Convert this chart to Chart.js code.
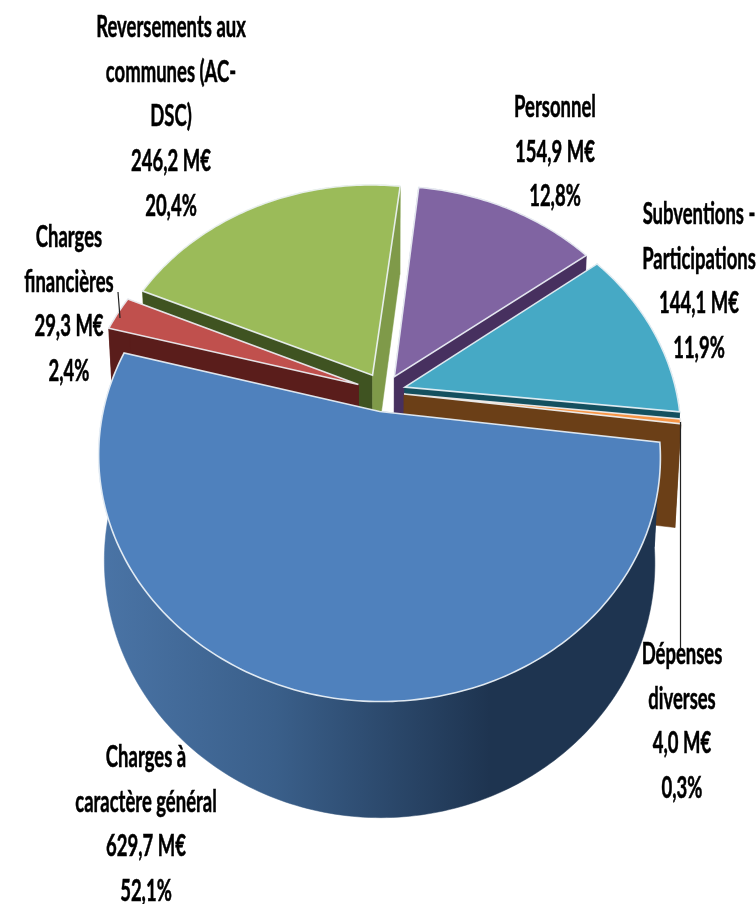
<!DOCTYPE html>
<html>
<head>
<meta charset="utf-8">
<style>
  html, body { margin: 0; padding: 0; background: #fff; }
  canvas { display: block; }
</style>
<script src="https://cdn.jsdelivr.net/npm/chart.js@4"></script>
</head>
<body>
<canvas id="pie" width="756" height="904"></canvas>
<script>
// values, clockwise from the right side
const categories = [
  ['Charges à', 'caractère général'],
  ['Charges', 'financières'],
  ['Reversements aux', 'communes (AC-', 'DSC)'],
  ['Personnel'],
  ['Subventions -', 'Participations'],
  ['Dépenses', 'diverses']
];
const values = [629.7, 29.3, 246.2, 154.9, 144.1, 4.0];
const explode = [8.5, 10, 8.5, 7.8, 8, 7.4]; // percent of radius

const topColors = ['#4f81bd', '#c0504d', '#9bbb59', '#8064a2', '#46a9c5', '#f79646'];
const startFace = ['#1f3550', '#5a1d1b', '#3f5321', '#47305f', '#14505f', '#6b3f17'];
const endFace = ['#1f3550', '#5a1d1b', '#7f9a49', '#47305f', '#14505f', '#6b3f17'];
const wallColors = ['#2c4a70', '#5a1d1b', '#7f9a49', '#47305f', '#14505f', '#6b3f17'];
const paintOrder = [2, 3, 4, 5, 1, 0];

// projection of the pie plane on the page
const view = { cx: 384, cy: 392, a: 272, b: 230, p: 0.18, shear: 2, shrink: 0.98, depth: 102, depthFront: 13 };

// centre x and first line y of each label
const labelPos = [
  [146, 757], [69, 237], [171, 27], [555, 107], [699, 214], [682, 654]
];
const lineGap = 44.6;

function topPoint(u, v) {
  const w = 1 - view.p * v;
  return [view.cx + view.a * u / w, view.cy + view.b * v / w + view.shear * u];
}

function bottomPoint(u, v) {
  const w = 1 - view.p * v;
  return [
    view.cx + view.a * view.shrink * u / w,
    view.cy + view.b * v / w + view.shear * u + view.depth + view.depthFront * v
  ];
}

function slicePoints(arc, project) {
  const mid = (arc.startAngle + arc.endAngle) / 2;
  const off = arc.options.offset / 100;
  const ox = Math.cos(mid) * off;
  const oy = Math.sin(mid) * off;
  const steps = Math.max(2, Math.ceil((arc.endAngle - arc.startAngle) * 180 / Math.PI));
  const rim = [];
  for (let i = 0; i <= steps; i++) {
    const t = arc.startAngle + (arc.endAngle - arc.startAngle) * i / steps;
    rim.push(project(ox + Math.cos(t), oy + Math.sin(t)));
  }
  return { tip: project(ox, oy), rim: rim };
}

function fillPoly(ctx, pts, fill) {
  ctx.beginPath();
  pts.forEach((p, i) => i ? ctx.lineTo(p[0], p[1]) : ctx.moveTo(p[0], p[1]));
  ctx.closePath();
  ctx.fillStyle = fill;
  ctx.strokeStyle = fill;
  ctx.lineWidth = 0.5;
  ctx.fill();
  ctx.stroke();
}

const pie3d = {
  id: 'pie3d',
  beforeDatasetsDraw(chart) {
    const ctx = chart.ctx;
    const arcs = chart.getDatasetMeta(0).data;

    paintOrder.forEach(i => {
      const top = slicePoints(arcs[i], topPoint);
      const bot = slicePoints(arcs[i], bottomPoint);
      const n = top.rim.length - 1;

      let wall = wallColors[i];
      if (i === 0) {
        wall = ctx.createLinearGradient(100, 0, 490, 0);
        wall.addColorStop(0, '#4a74a6');
        wall.addColorStop(0.45, '#3a5f8a');
        wall.addColorStop(1, '#1e3450');
      }
      fillPoly(ctx, top.rim.concat(bot.rim.slice().reverse()), wall);

      fillPoly(ctx, [top.tip, top.rim[0], bot.rim[0], bot.tip], startFace[i]);
      fillPoly(ctx, [top.tip, top.rim[n], bot.rim[n], bot.tip], endFace[i]);

      ctx.beginPath();
      ctx.moveTo(top.tip[0], top.tip[1]);
      top.rim.forEach(p => ctx.lineTo(p[0], p[1]));
      ctx.closePath();
      ctx.fillStyle = topColors[i];
      ctx.fill();
      ctx.strokeStyle = 'rgba(240,245,250,0.9)';
      ctx.lineWidth = 1.6;
      ctx.stroke();
    });
    return false;
  },
  afterDraw(chart) {
    const ctx = chart.ctx;
    const total = values.reduce((a, b) => a + b, 0);

    ctx.strokeStyle = '#222';
    ctx.lineWidth = 1.2;
    ctx.beginPath();
    ctx.moveTo(118, 292); ctx.lineTo(120, 318);
    ctx.moveTo(680.5, 422); ctx.lineTo(680.5, 648);
    ctx.stroke();

    ctx.fillStyle = '#000';
    ctx.strokeStyle = '#000';
    ctx.lineWidth = 0.5;
    ctx.font = 'bold 28px Lato';
    ctx.textAlign = 'center';
    ctx.textBaseline = 'middle';
    categories.forEach((lines, i) => {
      const money = values[i].toFixed(1).replace('.', ',') + ' M€';
      const share = (values[i] / total * 100).toFixed(1).replace('.', ',') + '%';
      lines.concat([money, share]).forEach((text, k) => {
        ctx.save();
        ctx.translate(labelPos[i][0], labelPos[i][1] + k * lineGap);
        ctx.scale(0.66, 1.12);
        ctx.fillText(text, 0, 0);
        ctx.strokeText(text, 0, 0);
        ctx.restore();
      });
    });
  }
};

new Chart(document.getElementById('pie').getContext('2d'), {
  type: 'pie',
  data: {
    labels: categories.map(c => c.join(' ')),
    datasets: [{
      data: values,
      backgroundColor: topColors,
      offset: explode
    }]
  },
  options: {
    responsive: false,
    animation: false,
    rotation: 96.8,
    plugins: {
      legend: { display: false },
      tooltip: { enabled: false }
    }
  },
  plugins: [pie3d]
});
</script>
</body>
</html>
